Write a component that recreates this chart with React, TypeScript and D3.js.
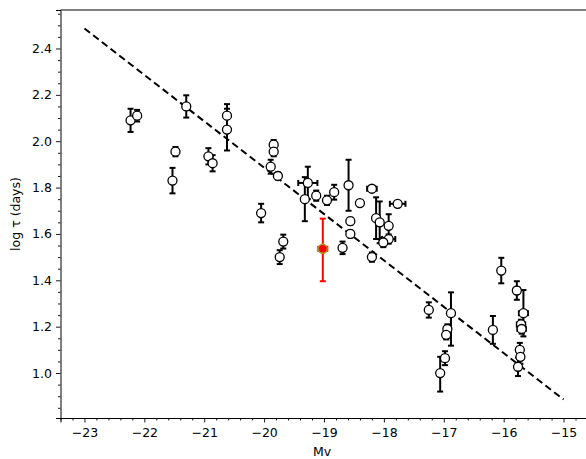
import React, { useEffect, useRef } from "react";
import * as d3 from "d3";

// Absolute magnitude Mv of each object
const mv = [
  -22.23, -22.12, -21.30, -20.62, -20.62, -21.48, -21.53, -20.93, -20.86,
  -19.84, -19.84, -19.89, -19.77, -19.27, -19.32, -19.13, -18.95, -18.83,
  -20.05, -19.68, -19.74, -18.69, -18.59, -18.56, -18.56, -18.20, -18.40,
  -17.77, -18.13, -18.07, -17.92, -17.92, -18.01, -18.20, -17.25, -16.88,
  -16.94, -16.96, -16.98, -17.06, -16.04, -16.18, -15.78, -15.67, -15.71,
  -15.70, -15.73, -15.72, -15.76,
];
// log tau (days)
const logTau = [
  2.09, 2.11, 2.15, 2.11, 2.05, 1.955, 1.83, 1.935, 1.905,
  1.985, 1.955, 1.89, 1.85, 1.82, 1.75, 1.765, 1.745, 1.78,
  1.69, 1.567, 1.5, 1.54, 1.81, 1.655, 1.6, 1.795, 1.733,
  1.73, 1.668, 1.65, 1.635, 1.578, 1.563, 1.5, 1.272, 1.258,
  1.19, 1.165, 1.064, 1.0, 1.442, 1.186, 1.356, 1.258, 1.21,
  1.19, 1.1, 1.07, 1.027,
];
// lower / upper errors on log tau
const errLo = [
  0.05, 0.025, 0.048, 0.05, 0.09, 0.02, 0.055, 0.035, 0.035,
  0.02, 0.02, 0.03, 0.015, 0.07, 0.095, 0.022, 0.02, 0.032,
  0.04, 0.03, 0.03, 0.027, 0.11, 0.015, 0.015, 0.01, 0.0,
  0.01, 0.09, 0.09, 0.05, 0.02, 0.02, 0.02, 0.033, 0.14,
  0.02, 0.02, 0.03, 0.08, 0.055, 0.06, 0.04, 0.1, 0.02,
  0.02, 0.03, 0.03, 0.04,
];
const errHi = [
  0.05, 0.025, 0.048, 0.05, 0.09, 0.02, 0.055, 0.035, 0.035,
  0.02, 0.02, 0.03, 0.015, 0.07, 0.095, 0.022, 0.02, 0.032,
  0.04, 0.03, 0.03, 0.027, 0.11, 0.015, 0.015, 0.01, 0.0,
  0.01, 0.09, 0.09, 0.05, 0.02, 0.02, 0.02, 0.033, 0.09,
  0.02, 0.02, 0.03, 0.07, 0.055, 0.06, 0.04, 0.1, 0.02,
  0.02, 0.03, 0.03, 0.04,
];
// errors on Mv
const errMv = [
  0, 0, 0, 0, 0, 0, 0, 0, 0,
  0, 0, 0, 0, 0.16, 0, 0, 0, 0,
  0, 0, 0, 0, 0, 0, 0, 0.08, 0,
  0.13, 0, 0, 0, 0.11, 0, 0, 0, 0,
  0, 0, 0, 0, 0, 0, 0, 0.075, 0.07,
  0.07, 0.05, 0.05, 0,
];

// highlighted object
const targetMv = [-19.02];
const targetLogTau = [1.536];
const targetErrLo = [0.14];
const targetErrHi = [0.13];
const targetErrMv = [0.075];

// fitted relation (dashed line)
const fitMv = [-23, -15];
const fitLogTau = [2.486, 0.886];

const xTicks = [-23, -22, -21, -20, -19, -18, -17, -16, -15];
const yTicks = [1.0, 1.2, 1.4, 1.6, 1.8, 2.0, 2.2, 2.4];

const W = 586;
const H = 459;

export default function App() {
  const ref = useRef<SVGSVGElement | null>(null);

  useEffect(() => {
    const svg = d3.select(ref.current);
    svg.selectAll("*").remove();
    const left = 60.5, right = 587.5, top = 10, bottom = 418;
    const x = d3.scaleLinear().domain([-23.4, -14.6]).range([left, right]);
    const y = d3.scaleLinear().domain([0.806, 2.566]).range([bottom, top]);
    const font = "DejaVu Sans, sans-serif";

    // minor ticks
    const xMinor = d3.range(-23.4, -14.6 + 1e-9, 0.2).map((v) => Math.round(v * 10) / 10)
      .filter((v) => !xTicks.some((t) => Math.abs(t - v) < 1e-6));
    const yMinor = d3.range(0.85, 2.566, 0.05).map((v) => Math.round(v * 100) / 100)
      .filter((v) => !yTicks.some((t) => Math.abs(t - v) < 1e-6));

    const gx = svg.append("g").attr("transform", `translate(0,${bottom})`);
    gx.call(
      d3.axisBottom(x).tickValues(xTicks).tickSize(4.5).tickPadding(5.5).tickFormat(d3.format("d")) as any
    );
    const gxm = svg.append("g").attr("transform", `translate(0,${bottom})`);
    gxm.call(d3.axisBottom(x).tickValues(xMinor).tickSize(2.5).tickFormat(() => "") as any);
    gxm.select(".domain").remove();

    const gy = svg.append("g").attr("transform", `translate(${left},0)`);
    gy.call(
      d3.axisLeft(y).tickValues(yTicks).tickSize(4.5).tickPadding(4).tickFormat(d3.format(".1f")) as any
    );
    const gym = svg.append("g").attr("transform", `translate(${left},0)`);
    gym.call(d3.axisLeft(y).tickValues(yMinor).tickSize(2.5).tickFormat(() => "") as any);
    gym.select(".domain").remove();

    svg.selectAll(".tick text").attr("font-family", font).attr("font-size", 12.5).attr("fill", "#000");
    svg.selectAll(".tick line").attr("stroke", "#000").attr("stroke-width", 0.9);
    svg.selectAll(".domain").attr("stroke", "#000").attr("stroke-width", 1);

    // top and right spines
    svg.append("line").attr("x1", left).attr("x2", right).attr("y1", top).attr("y2", top)
      .attr("stroke", "#000").attr("stroke-width", 1);
    svg.append("line").attr("x1", right).attr("x2", right).attr("y1", top).attr("y2", bottom)
      .attr("stroke", "#000").attr("stroke-width", 1);

    // labels
    svg.append("text").attr("x", (left + right) / 2 - 2).attr("y", 456)
      .attr("text-anchor", "middle").attr("font-family", font).attr("font-size", 12.5).text("Mv");
    svg.append("text").attr("transform", `translate(20,${(top + bottom) / 2}) rotate(-90)`)
      .attr("text-anchor", "middle").attr("font-family", font).attr("font-size", 12.5).text("log τ (days)");

    // dashed line
    const line = d3.line<number>().x((_, i) => x(fitMv[i])).y((d) => y(d));
    svg.append("path").attr("d", line(fitLogTau)).attr("fill", "none").attr("stroke", "#000")
      .attr("stroke-width", 2).attr("stroke-dasharray", "7,4");

    const drawPoints = (
      xs: number[], ys: number[], lo: number[], hi: number[], xe: number[],
      col: string, fill: string, edge: string
    ) => {
      const g = svg.append("g");
      const cap = 3;
      xs.forEach((xv, i) => {
        const cx = x(xv), cy = y(ys[i]);
        if (lo[i] > 0 || hi[i] > 0) {
          const y1 = y(ys[i] + hi[i]), y2 = y(ys[i] - lo[i]);
          g.append("line").attr("x1", cx).attr("x2", cx).attr("y1", y1).attr("y2", y2)
            .attr("stroke", col).attr("stroke-width", 2);
          g.append("line").attr("x1", cx - cap).attr("x2", cx + cap).attr("y1", y1).attr("y2", y1)
            .attr("stroke", col).attr("stroke-width", 2);
          g.append("line").attr("x1", cx - cap).attr("x2", cx + cap).attr("y1", y2).attr("y2", y2)
            .attr("stroke", col).attr("stroke-width", 2);
        }
        if (xe[i] > 0) {
          const x1 = x(xv - xe[i]), x2 = x(xv + xe[i]);
          g.append("line").attr("x1", x1).attr("x2", x2).attr("y1", cy).attr("y2", cy)
            .attr("stroke", col).attr("stroke-width", 2);
          g.append("line").attr("x1", x1).attr("x2", x1).attr("y1", cy - cap).attr("y2", cy + cap)
            .attr("stroke", col).attr("stroke-width", 2);
          g.append("line").attr("x1", x2).attr("x2", x2).attr("y1", cy - cap).attr("y2", cy + cap)
            .attr("stroke", col).attr("stroke-width", 2);
        }
      });
      xs.forEach((xv, i) => {
        g.append("circle").attr("cx", x(xv)).attr("cy", y(ys[i])).attr("r", 4.5)
          .attr("fill", fill).attr("stroke", edge).attr("stroke-width", 1.3);
      });
    };

    drawPoints(mv, logTau, errLo, errHi, errMv, "#000", "#fff", "#000");
    drawPoints(targetMv, targetLogTau, targetErrLo, targetErrHi, targetErrMv, "#ff0000", "#ff0000", "#a89f1c");
  }, []);

  return (
    <svg
      ref={ref}
      width={W}
      height={H}
      style={{ position: "absolute", left: 0, top: 0, background: "#fff" }}
    />
  );
}
